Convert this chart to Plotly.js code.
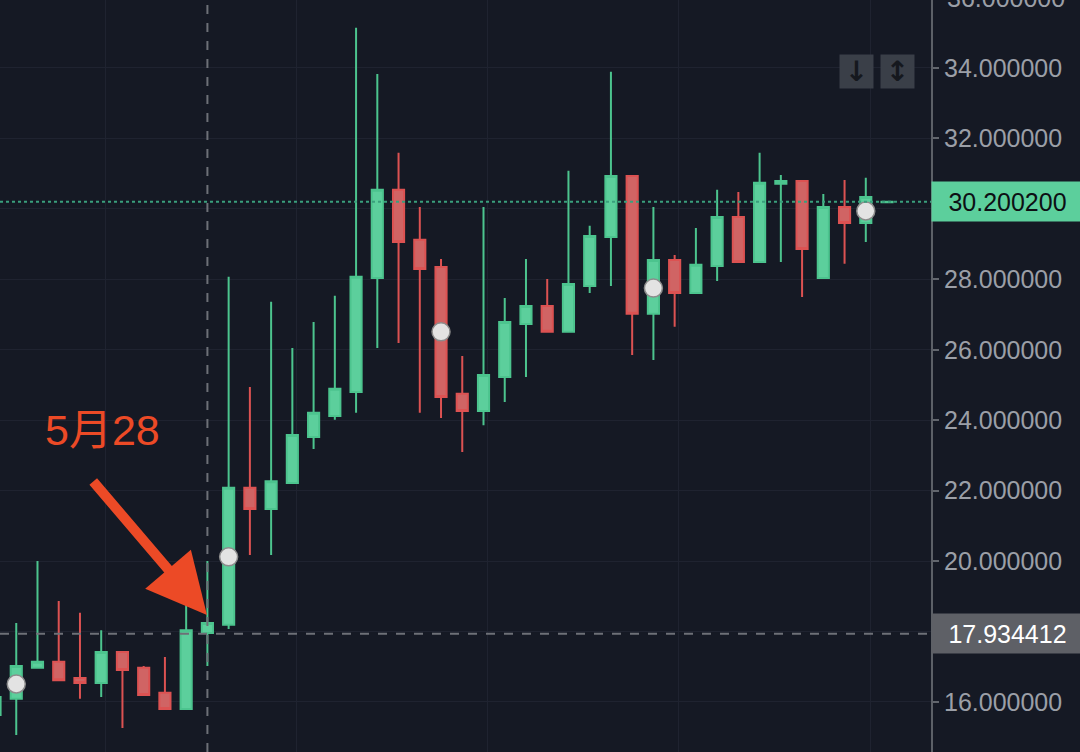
<!DOCTYPE html>
<html>
<head>
<meta charset="utf-8">
<script src="https://cdn.plot.ly/plotly-3.0.1.min.js"></script>
<style>
html,body{margin:0;padding:0;background:#151924;}
#chart{width:1080px;height:752px;}
</style>
</head>
<body>
<div id="chart"></div>
<script>
const dates = ['2021-05-18','2021-05-19','2021-05-20','2021-05-21','2021-05-22','2021-05-23','2021-05-24','2021-05-25','2021-05-26','2021-05-27',
  '2021-05-28','2021-05-29','2021-05-30','2021-05-31','2021-06-01','2021-06-02','2021-06-03','2021-06-04','2021-06-05','2021-06-06',
  '2021-06-07','2021-06-08','2021-06-09','2021-06-10','2021-06-11','2021-06-12','2021-06-13','2021-06-14','2021-06-15','2021-06-16',
  '2021-06-17','2021-06-18','2021-06-19','2021-06-20','2021-06-21','2021-06-22','2021-06-23','2021-06-24','2021-06-25','2021-06-26',
  '2021-06-27','2021-06-28','2021-06-29'];
const openP  = [15.63,16.09,16.97,17.14,16.68,16.54,17.42,16.97,16.26,15.80,
  17.96,18.19,22.08,21.48,22.22,23.52,24.12,24.80,28.04,30.54,
  29.12,28.35,24.75,24.26,25.23,26.73,27.24,26.51,27.81,29.20,
  30.93,27.02,28.55,27.61,28.38,29.77,28.49,30.71,30.79,28.04,
  30.05,29.60,30.19];
const highP  = [16.30,18.24,20.00,18.87,18.53,18.04,17.42,17.02,17.28,20.00,
  20.00,28.07,24.94,27.36,26.05,26.79,27.53,35.14,33.83,31.59,
  30.05,28.58,25.82,30.05,27.47,28.58,28.01,31.08,29.52,33.89,
  30.93,30.05,28.69,29.46,30.54,30.48,31.59,30.96,30.79,30.42,
  30.82,30.88,30.2002];
const lowP   = [15.45,15.06,16.95,16.62,16.09,16.14,15.26,16.20,15.80,15.80,
  17.02,18.07,20.17,20.17,22.22,23.18,24.01,24.21,26.05,26.19,
  24.21,24.06,23.10,23.86,24.52,25.23,26.48,26.51,27.61,27.81,
  25.85,25.71,26.65,27.61,27.95,28.49,28.49,28.49,27.50,28.04,
  28.44,29.06,30.19];
const closeP = [16.14,17.02,17.14,16.62,16.54,17.42,16.91,16.20,15.80,18.04,
  18.24,22.08,21.48,22.27,23.58,24.21,24.89,28.07,30.54,29.06,
  28.29,24.66,24.26,25.28,26.79,27.24,26.51,27.87,29.23,30.93,
  27.02,28.55,27.61,28.41,29.77,28.49,30.74,30.79,28.86,30.05,
  29.60,30.34,30.2002];

const markerDates  = ['2021-05-19','2021-05-29','2021-06-08','2021-06-18','2021-06-28'];
const markerValues = [16.51,20.12,26.51,27.75,29.94];

const lastPrice = 30.2002;
const crossPrice = 17.934412;
const crossDate = '2021-05-28';
const noteText = '5月28';
const noteDate = '2021-05-27 23:30';
const notePrice = 18.47;
const yTicks = [16,18,20,22,24,26,28,30,32,34];
const topTick = 36;
const yRange = [14.58, 35.93];

const UP = '#5ccf9c', UP_LINE = '#4cc48e';
const DOWN = '#d06464', DOWN_LINE = '#dc5252';
const BG = '#151924';
const GRID = '#1f2330';
const TICKFONT = {family: 'Liberation Sans, Arial, sans-serif', size: 25, color: '#9b9fa7'};

const traces = [
  {
    type: 'candlestick',
    x: dates, open: openP, high: highP, low: lowP, close: closeP,
    increasing: {line: {color: UP_LINE, width: 2}, fillcolor: UP},
    decreasing: {line: {color: DOWN_LINE, width: 2}, fillcolor: DOWN},
    whiskerwidth: 0,
    hoverinfo: 'skip',
    showlegend: false
  },
  {
    type: 'scatter', mode: 'markers',
    x: markerDates, y: markerValues,
    marker: {size: 18, color: '#e3e3e3', line: {color: '#8c8c8c', width: 1.5}},
    hoverinfo: 'skip', showlegend: false
  }
];

const topTickPaper = 1 + (topTick - yRange[1]) / (yRange[1] - yRange[0]);

const layout = {
  width: 1080, height: 752,
  margin: {l: 0, r: 149, t: 0, b: 0, pad: 0},
  paper_bgcolor: BG, plot_bgcolor: BG,
  boxgap: 0.25,
  showlegend: false,
  xaxis: {
    type: 'date',
    range: ['2021-05-18 05:38', '2021-07-01 01:41'],
    rangeslider: {visible: false},
    showticklabels: false,
    showgrid: true, gridcolor: GRID, gridwidth: 1,
    tick0: '2021-05-23 04:48', dtick: 777600000,
    zeroline: false, showline: false, ticks: ''
  },
  yaxis: {
    side: 'right',
    range: yRange,
    tickvals: yTicks,
    tickformat: '.6f',
    tickfont: TICKFONT,
    ticks: 'outside', ticklen: 6, tickwidth: 2, tickcolor: '#62666d',
    showline: true, linecolor: '#5c6067', linewidth: 2,
    showgrid: true, gridcolor: GRID, gridwidth: 1,
    zeroline: false
  },
  shapes: [
    {type: 'line', xref: 'paper', yref: 'y', x0: 0, x1: 1, y0: lastPrice, y1: lastPrice,
     line: {color: '#3a9f7c', width: 2, dash: 'dot'}},
    {type: 'line', xref: 'paper', yref: 'y', x0: 0, x1: 1, y0: crossPrice, y1: crossPrice,
     line: {color: '#6d7077', width: 2, dash: 'dash'}},
    {type: 'line', xref: 'x', yref: 'paper', x0: crossDate, x1: crossDate, y0: 0, y1: 1,
     line: {color: '#6d7077', width: 2, dash: 'dash'}}
  ],
  annotations: [
    {xref: 'paper', yref: 'paper', x: 1, y: topTickPaper, xanchor: 'left', yanchor: 'middle',
     xshift: 14, text: topTick.toFixed(6), showarrow: false, font: TICKFONT},
    {xref: 'paper', yref: 'y', x: 1, y: lastPrice, xanchor: 'left', yanchor: 'middle',
     text: lastPrice.toFixed(6), showarrow: false, bgcolor: UP, width: 149, height: 37, align: 'center',
     font: {family: 'Liberation Sans, Arial, sans-serif', size: 25, color: '#0d0f14'}},
    {xref: 'paper', yref: 'y', x: 1, y: crossPrice, xanchor: 'left', yanchor: 'middle',
     text: crossPrice.toFixed(6), showarrow: false, bgcolor: '#5e6066', width: 149, height: 37, align: 'center',
     font: {family: 'Liberation Sans, Arial, sans-serif', size: 25, color: '#ffffff'}},
    {xref: 'paper', yref: 'paper', x: 0.920, y: 0.905, xanchor: 'center', yanchor: 'middle',
     text: '<b>↓</b>', showarrow: false, bgcolor: '#3a3f48', width: 31, height: 31, borderpad: 1,
     font: {family: 'DejaVu Sans', size: 28, color: '#15181e'}},
    {xref: 'paper', yref: 'paper', x: 0.964, y: 0.905, xanchor: 'center', yanchor: 'middle',
     text: '<b>↕</b>', showarrow: false, bgcolor: '#3a3f48', width: 31, height: 31, borderpad: 1,
     font: {family: 'DejaVu Sans', size: 28, color: '#15181e'}},
    {xref: 'paper', yref: 'paper', x: 0.1106, y: 0.428, xanchor: 'center', yanchor: 'middle',
     text: noteText, showarrow: false,
     font: {family: 'Liberation Sans, Noto Sans CJK SC, sans-serif', size: 43, color: '#ec4a26'}},
    {xref: 'x', yref: 'y', x: noteDate, y: notePrice, text: '', showarrow: true,
     ax: -115, ay: -135, arrowhead: 2, arrowsize: 1.2, arrowwidth: 10, arrowcolor: '#ec4a26'}
  ]
};

Plotly.newPlot('chart', traces, layout, {displayModeBar: false, staticPlot: true});
</script>
</body>
</html>
